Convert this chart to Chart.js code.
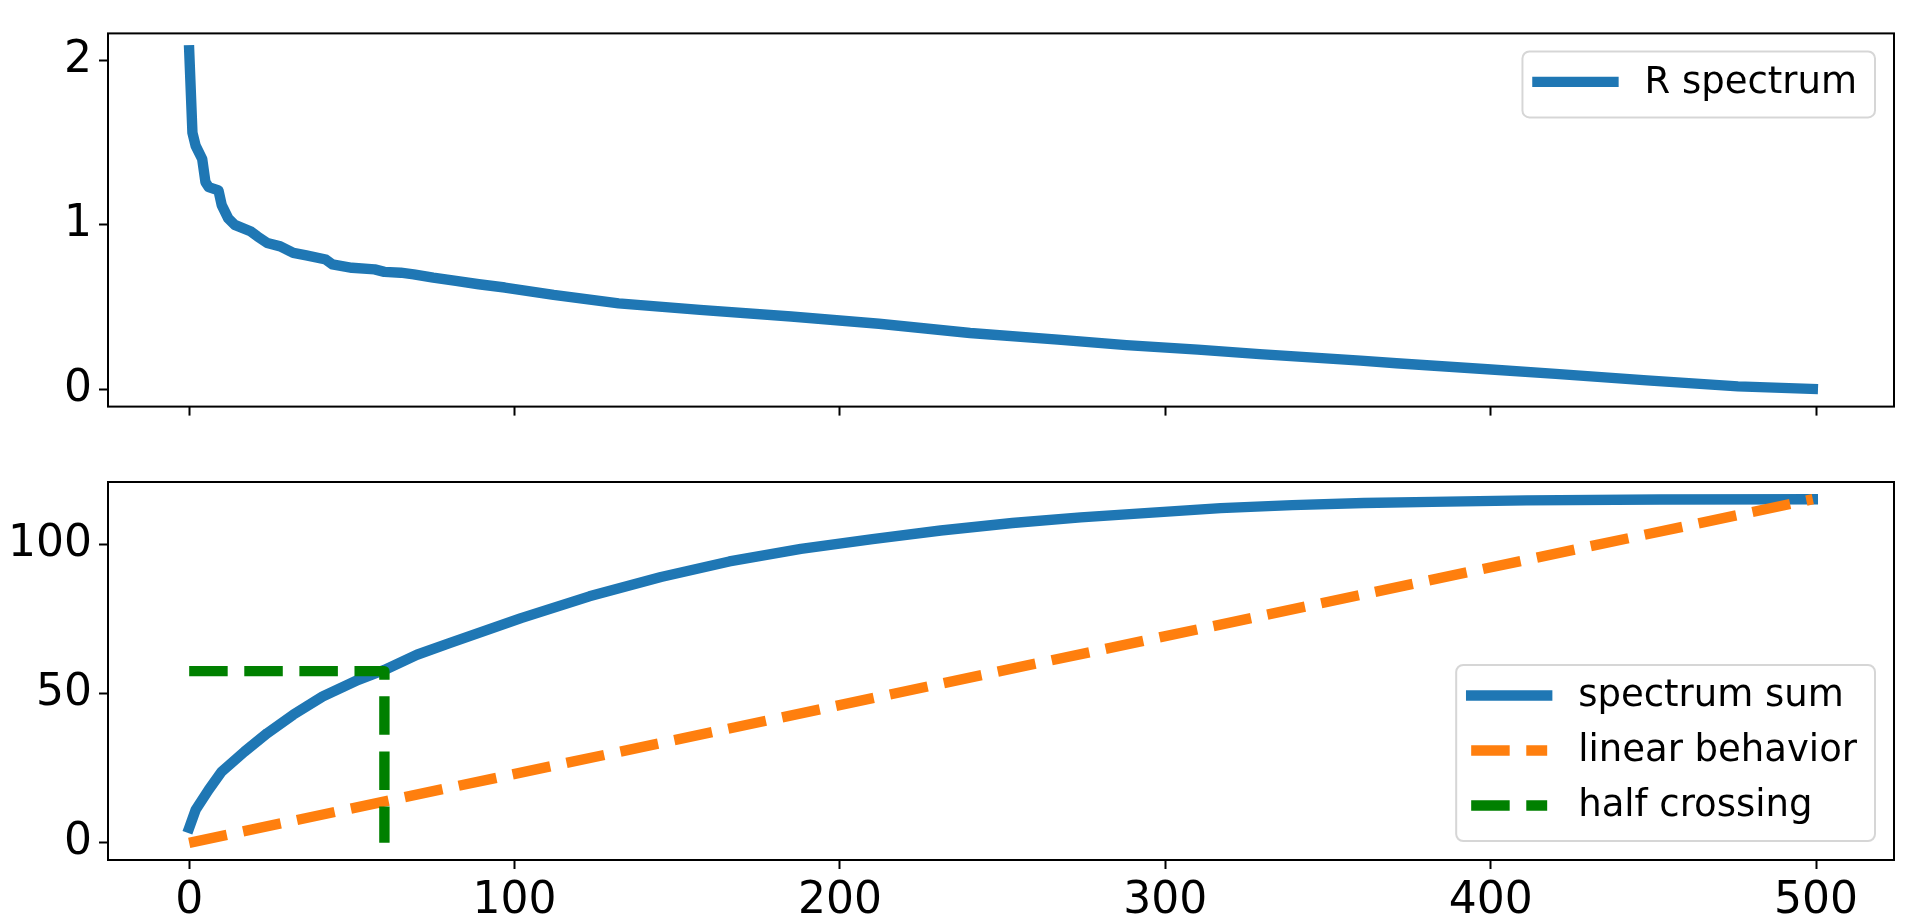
<!DOCTYPE html>
<html>
<head>
<meta charset="utf-8">
<script src="https://cdn.jsdelivr.net/npm/chart.js@4.4.1/dist/chart.umd.min.js"></script>
<style>
  html, body { margin: 0; padding: 0; background: #fff; }
  #arriba { position: absolute; left: 0; top: 0; }
  #abajo { position: absolute; left: 0; top: 440px; }
</style>
</head>
<body>
<canvas id="arriba" width="1909" height="440"></canvas>
<canvas id="abajo" width="1909" height="483"></canvas>
<script>
// valores
var espectro_x = [0, 1, 2, 4, 5, 6, 9, 10, 12, 14, 19, 21, 24, 28, 32, 36, 42, 44, 50, 57, 60, 65, 69, 75, 82, 89, 97,
                  112, 132, 157, 185, 212, 240, 267, 288, 310, 329, 360, 371, 399, 420, 448, 476, 499];
var espectro_y = [2.06, 1.56, 1.48, 1.40, 1.26, 1.23, 1.21, 1.12, 1.04, 1.00, 0.96, 0.93, 0.89, 0.87, 0.83, 0.815, 0.79, 0.76,
                  0.74, 0.73, 0.715, 0.71, 0.70, 0.68, 0.66, 0.64, 0.62, 0.575, 0.524, 0.484, 0.444, 0.40, 0.344, 0.304,
                  0.27, 0.243, 0.216, 0.176, 0.16, 0.124, 0.096, 0.056, 0.02, 0.004];

var suma_x = [0, 2, 6, 10, 17, 24, 32, 41, 52, 60, 70, 80, 102, 123, 145, 166, 188, 210, 231, 253, 274, 296, 317,
              339, 361, 382, 411, 452, 499];
var suma_y = [5.0, 11.1, 17.8, 23.9, 30.6, 36.8, 43.0, 49.1, 54.7, 58.0, 63.1, 67.0, 75.4, 82.7, 89.2, 94.4, 98.6,
              101.9, 104.8, 107.3, 109.2, 110.8, 112.3, 113.3, 114.0, 114.4, 114.9, 115.2, 115.3];

var lineal_x = [0, 499];
var lineal_y = [0, 115.3];

var mitad_x = [0, 60, 60];
var mitad_y = [57.6, 57.6, 0];

var ticks_x = [0, 100, 200, 300, 400, 500];
var ticks_arriba = [0, 1, 2];
var ticks_abajo = [0, 50, 100];

var etiquetas = ['R spectrum', 'spectrum sum', 'linear behavior', 'half crossing'];

var azul = '#1f77b4', naranja = '#ff7f0e', verde = '#008000';
var guiones = [38.5, 16.6];
var grosor = 10.4;

Chart.defaults.font.family = '"DejaVu Sans"';
Chart.defaults.color = '#000';

function puntos(xs, ys) {
	return xs.map(function (x, i) { return { x: x, y: ys[i] }; });
}

function fijarTicks(valores) {
	return function (escala) {
		escala.ticks = valores.map(function (v) { return { value: v }; });
	};
}

//marco negro alrededor del area del grafico
var marco = {
	id: 'marco',
	afterDatasetsDraw: function (chart) {
		var a = chart.chartArea, ctx = chart.ctx;
		ctx.save();
		ctx.strokeStyle = '#000';
		ctx.lineWidth = 2;
		ctx.strokeRect(a.left, a.top, a.right - a.left, a.bottom - a.top);
		ctx.restore();
	}
};

//leyenda con caja dentro del area, como la de matplotlib
function leyenda(posicion) {
	return {
		id: 'leyendaCaja',
		afterDraw: function (chart) {
			var ctx = chart.ctx, a = chart.chartArea;
			var sets = chart.data.datasets;
			ctx.save();
			ctx.font = '37px "DejaVu Sans"';
			var tw = 0;
			sets.forEach(function (d) { tw = Math.max(tw, ctx.measureText(d.label).width); });
			var w = 10 + 86 + 26 + tw + 18;
			var h = 11 + sets.length * 55;
			var x = a.right - 19 - w;
			var y = posicion === 'arriba' ? a.top + 18 : a.bottom - 19 - h;
			ctx.beginPath();
			ctx.roundRect(x, y, w, h, 7);
			ctx.fillStyle = 'rgba(255,255,255,0.8)';
			ctx.fill();
			ctx.strokeStyle = 'rgba(204,204,204,0.8)';
			ctx.lineWidth = 2;
			ctx.stroke();
			sets.forEach(function (d, i) {
				var cy = y + 30.5 + i * 55;
				ctx.beginPath();
				ctx.strokeStyle = d.borderColor;
				ctx.lineWidth = d.borderWidth;
				ctx.lineCap = d.borderCapStyle;
				ctx.setLineDash(d.borderDash || []);
				ctx.moveTo(x + 15, cy);
				ctx.lineTo(x + 91, cy);
				ctx.stroke();
				ctx.setLineDash([]);
				ctx.fillStyle = '#000';
				ctx.textAlign = 'left';
				ctx.textBaseline = 'middle';
				ctx.fillText(d.label, x + 122, cy + 1);
			});
			ctx.restore();
		}
	};
}

function ejeX(conEtiquetas, alto) {
	return {
		type: 'linear',
		min: -24.95,
		max: 523.95,
		afterBuildTicks: fijarTicks(ticks_x),
		afterFit: function (s) { s.height = alto; },
		border: { display: false },
		grid: { drawOnChartArea: false, drawTicks: true, tickLength: 9, tickWidth: 2, tickColor: '#000' },
		ticks: { display: conEtiquetas, padding: 6, maxRotation: 0, font: { size: 44 } }
	};
}

function ejeY(min, max, valores) {
	return {
		type: 'linear',
		min: min,
		max: max,
		afterBuildTicks: fijarTicks(valores),
		afterFit: function (s) { s.width = 108; },
		border: { display: false },
		grid: { drawOnChartArea: false, drawTicks: true, tickLength: 9, tickWidth: 2, tickColor: '#000' },
		ticks: { padding: 7, font: { size: 44 } }
	};
}

var opciones_base = {
	responsive: false,
	animation: false,
	events: [],
	plugins: { legend: { display: false }, tooltip: { enabled: false } },
	elements: { point: { radius: 0 }, line: { tension: 0, borderJoinStyle: 'round' } }
};

var config_arriba = {
	type: 'line',
	data: {
		datasets: [{
			label: etiquetas[0],
			data: puntos(espectro_x, espectro_y),
			borderColor: azul, borderWidth: grosor, borderCapStyle: 'square', fill: false
		}]
	},
	options: Object.assign({}, opciones_base, {
		layout: { padding: { top: 30, right: 15, left: 0, bottom: 0 } },
		scales: { x: ejeX(false, 33), y: ejeY(-0.103, 2.163, ticks_arriba) }
	}),
	plugins: [marco, leyenda('arriba')]
};

var config_abajo = {
	type: 'line',
	data: {
		datasets: [{
			label: etiquetas[1],
			data: puntos(suma_x, suma_y),
			borderColor: azul, borderWidth: grosor, borderCapStyle: 'square', fill: false, order: 3
		}, {
			label: etiquetas[2],
			data: puntos(lineal_x, lineal_y),
			borderColor: naranja, borderWidth: grosor, borderCapStyle: 'butt', borderDash: guiones, fill: false, order: 2
		}, {
			label: etiquetas[3],
			data: puntos(mitad_x, mitad_y),
			borderColor: verde, borderWidth: grosor, borderCapStyle: 'butt', borderDash: guiones, fill: false, order: 1
		}]
	},
	options: Object.assign({}, opciones_base, {
		layout: { padding: { top: 42, right: 15, left: 0, bottom: 0 } },
		scales: { x: ejeX(true, 63), y: ejeY(-5.77, 121.07, ticks_abajo) }
	}),
	plugins: [marco, leyenda('abajo')]
};

window.grafico_arriba = new Chart(document.getElementById('arriba').getContext('2d'), config_arriba);
window.grafico_abajo = new Chart(document.getElementById('abajo').getContext('2d'), config_abajo);
</script>
</body>
</html>
